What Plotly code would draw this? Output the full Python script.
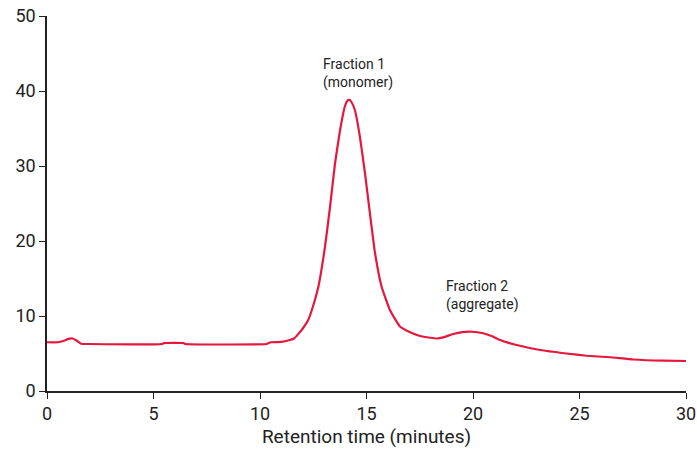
import plotly.graph_objects as go

time_min = [0, 0.5, 0.8, 1.0, 1.2, 1.4, 1.6, 2, 5.4, 5.5, 6.4, 6.5, 10.3, 10.5, 11.0, 11.4,
            11.6, 12.0, 12.27, 12.5, 12.74, 13.05, 13.29, 13.52, 13.76, 13.99, 14.1, 14.18, 14.3,
            14.46, 14.69, 14.93, 15.16, 15.4, 15.71, 16.1, 16.57, 17.0, 17.51, 18.0, 18.3, 18.6,
            19.07, 19.5, 19.93, 20.48, 20.9, 21.27, 22.05, 23.15, 24.4, 25.34, 26.43, 27.53,
            28.94, 30.0]
signal = [6.5, 6.5, 6.7, 6.95, 7.0, 6.7, 6.3, 6.27, 6.27, 6.4, 6.4, 6.27, 6.27, 6.5, 6.55, 6.8,
          7.0, 8.3, 9.5, 11.4, 13.9, 19.2, 24.6, 30.3, 34.8, 38.0, 38.7, 38.85, 38.5,
          37.4, 33.9, 29.0, 23.7, 18.4, 13.9, 10.8, 8.6, 7.9, 7.33, 7.1, 7.0, 7.15,
          7.6, 7.85, 7.9, 7.7, 7.3, 6.8, 6.13, 5.47, 5.0, 4.7, 4.5, 4.2,
          4.04, 4.0]

x_ticks = [0, 5, 10, 15, 20, 25, 30]
y_ticks = [0, 10, 20, 30, 40, 50]

labels = ["Fraction 1<br>(monomer)", "Fraction 2<br>(aggregate)"]
label_x = [12.85, 18.62]
label_y = [42.3, 12.7]

FONT = "Roboto, sans-serif"

fig = go.Figure()
fig.add_trace(go.Scatter(x=time_min, y=signal, mode="lines",
                         line=dict(color="#E5173C", width=2.2, shape="spline", smoothing=0.4),
                         showlegend=False, hoverinfo="skip"))

for t, xx, yy in zip(labels, label_x, label_y):
    fig.add_annotation(x=xx, y=yy, text=t, showarrow=False, xanchor="left", yanchor="middle",
                       align="left", font=dict(size=14, color="#222222", family=FONT))

fig.update_layout(
    width=697, height=455,
    margin=dict(l=47, r=11, t=16, b=64),
    paper_bgcolor="white", plot_bgcolor="white",
    font=dict(family=FONT, color="#222222"),
    xaxis=dict(range=[0, 30], tickvals=x_ticks, showline=True, linecolor="#222222", linewidth=1.5,
               ticks="outside", ticklen=6, tickcolor="#222222", showgrid=False, zeroline=False,
               automargin=False,
               tickfont=dict(size=18), title=dict(text="Retention time (minutes)", font=dict(size=19), standoff=6)),
    yaxis=dict(range=[0, 50], tickvals=y_ticks, showline=True, linecolor="#222222", linewidth=1.5,
               ticks="outside", ticklen=6, tickcolor="#222222", showgrid=False, zeroline=False,
               automargin=False, tickfont=dict(size=18)),
)

fig.write_html("out.html")
